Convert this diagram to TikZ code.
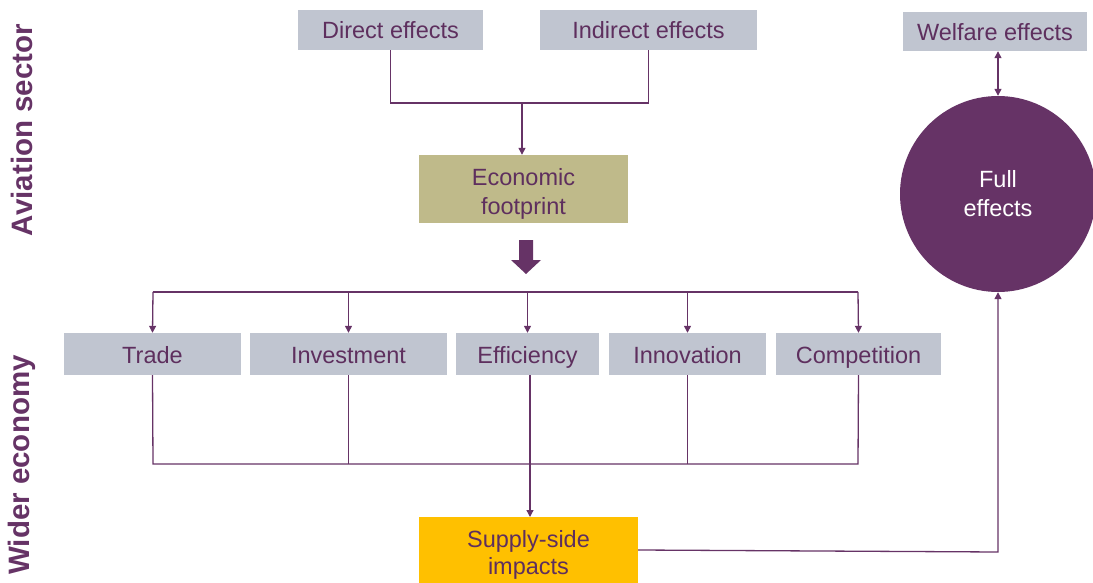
\documentclass[tikz,border=0pt]{standalone}
\usepackage{fontspec}
\setmainfont{Liberation Sans}
\usetikzlibrary{arrows.meta}
\definecolor{pur}{HTML}{663366}
\definecolor{txt}{HTML}{5E2F5E}
\definecolor{grayb}{HTML}{C0C5D0}
\definecolor{olive}{HTML}{BFBA8A}
\definecolor{gold}{HTML}{FFC000}
\begin{document}
\begin{tikzpicture}[x=1pt,y=-1pt,
  box/.style={fill=grayb, text=txt, inner sep=0pt, font=\fontsize{23.5}{29}\selectfont},
  onebox/.style={box, text height=22pt, text depth=4pt},
  conn/.style={draw=pur, line width=1.3pt},
  arr/.style={conn, -{Triangle[width=7pt,length=7pt]}},
  side/.style={text=pur, font=\fontsize{29.5}{30}\selectfont\bfseries, rotate=90}]
\useasboundingbox (0,0) rectangle (1093,583);
% top boxes
\node[onebox, minimum width=185pt, minimum height=40pt] (direct) at (390.5,30) {Direct effects};
\node[onebox, minimum width=217pt, minimum height=40pt] (indirect) at (648.5,30) {Indirect effects};
\node[onebox, minimum width=184pt, minimum height=39pt] (welfare) at (995,31.5) {Welfare effects};
\node[box, fill=olive, minimum width=209pt, minimum height=68pt, align=center] (foot) at (523.5,189) {\rule{0pt}{27pt}Economic\\footprint};
% circle
\node[circle, fill=pur, text=white, minimum size=196pt, inner sep=0pt, align=center, font=\fontsize{23.5}{29}\selectfont] (full) at (998,194) {Full\\effects};
% middle boxes
\node[onebox, minimum width=177pt, minimum height=42pt] (trade) at (152.5,354) {Trade};
\node[onebox, minimum width=197pt, minimum height=42pt] (invest) at (348.5,354) {Investment};
\node[onebox, minimum width=143pt, minimum height=42pt] (eff) at (527.5,354) {Efficiency};
\node[onebox, minimum width=157pt, minimum height=42pt] (innov) at (687.5,354) {Innovation};
\node[onebox, minimum width=165pt, minimum height=42pt] (comp) at (858.5,354) {Competition};
% supply side
\node[box, fill=gold, minimum width=219pt, minimum height=66pt, align=center, font=\fontsize{23.5}{27}\selectfont] (supply) at (528.5,550) {\rule{0pt}{27pt}Supply-side\\impacts};
% side labels
\node[side] (avi) at (22,130) {Aviation sector};
\node[side] (wider) at (22,465) {Wider economy};
% coordinates
\coordinate (j1) at (522,103);
\coordinate (hl) at (153,292);
\coordinate (hr) at (858,292);
\coordinate (bl) at (153,464);
\coordinate (br) at (858,464);
\coordinate (corner) at (998,552);
% top connectors
\draw[conn] (direct.south) -- (direct.south |- j1) -- (indirect.south |- j1) -- (indirect.south);
\draw[arr] (j1) -- (j1 |- foot.north);
% big arrow
\fill[pur] (519,240) -- (533,240) -- (533,260) -- (541,260) -- (526,274) -- (511,260) -- (519,260) -- cycle;
% distribution line
\draw[conn] (hl) -- (hr);
\draw[arr] (hl) -- (trade.north);
\draw[arr] (invest.north |- hl) -- (invest.north);
\draw[arr] (eff.north |- hl) -- (eff.north);
\draw[arr] (innov.north |- hl) -- (innov.north);
\draw[arr] (hr) -- (comp.north);
% collecting lines
\draw[conn] (trade.south) -- (bl) -- (br) -- (comp.south);
\draw[conn] (invest.south) -- (invest.south |- bl);
\draw[conn] (innov.south) -- (innov.south |- bl);
\draw[arr] (530,375) -- (530,517);
% to full effects
\draw[arr] (supply.east) -- (corner) -- (full.south);
\draw[conn, {Triangle[width=7pt,length=7pt]}-{Triangle[width=7pt,length=7pt]}] (welfare.south -| full.north) -- (full.north);
\end{tikzpicture}
\end{document}
